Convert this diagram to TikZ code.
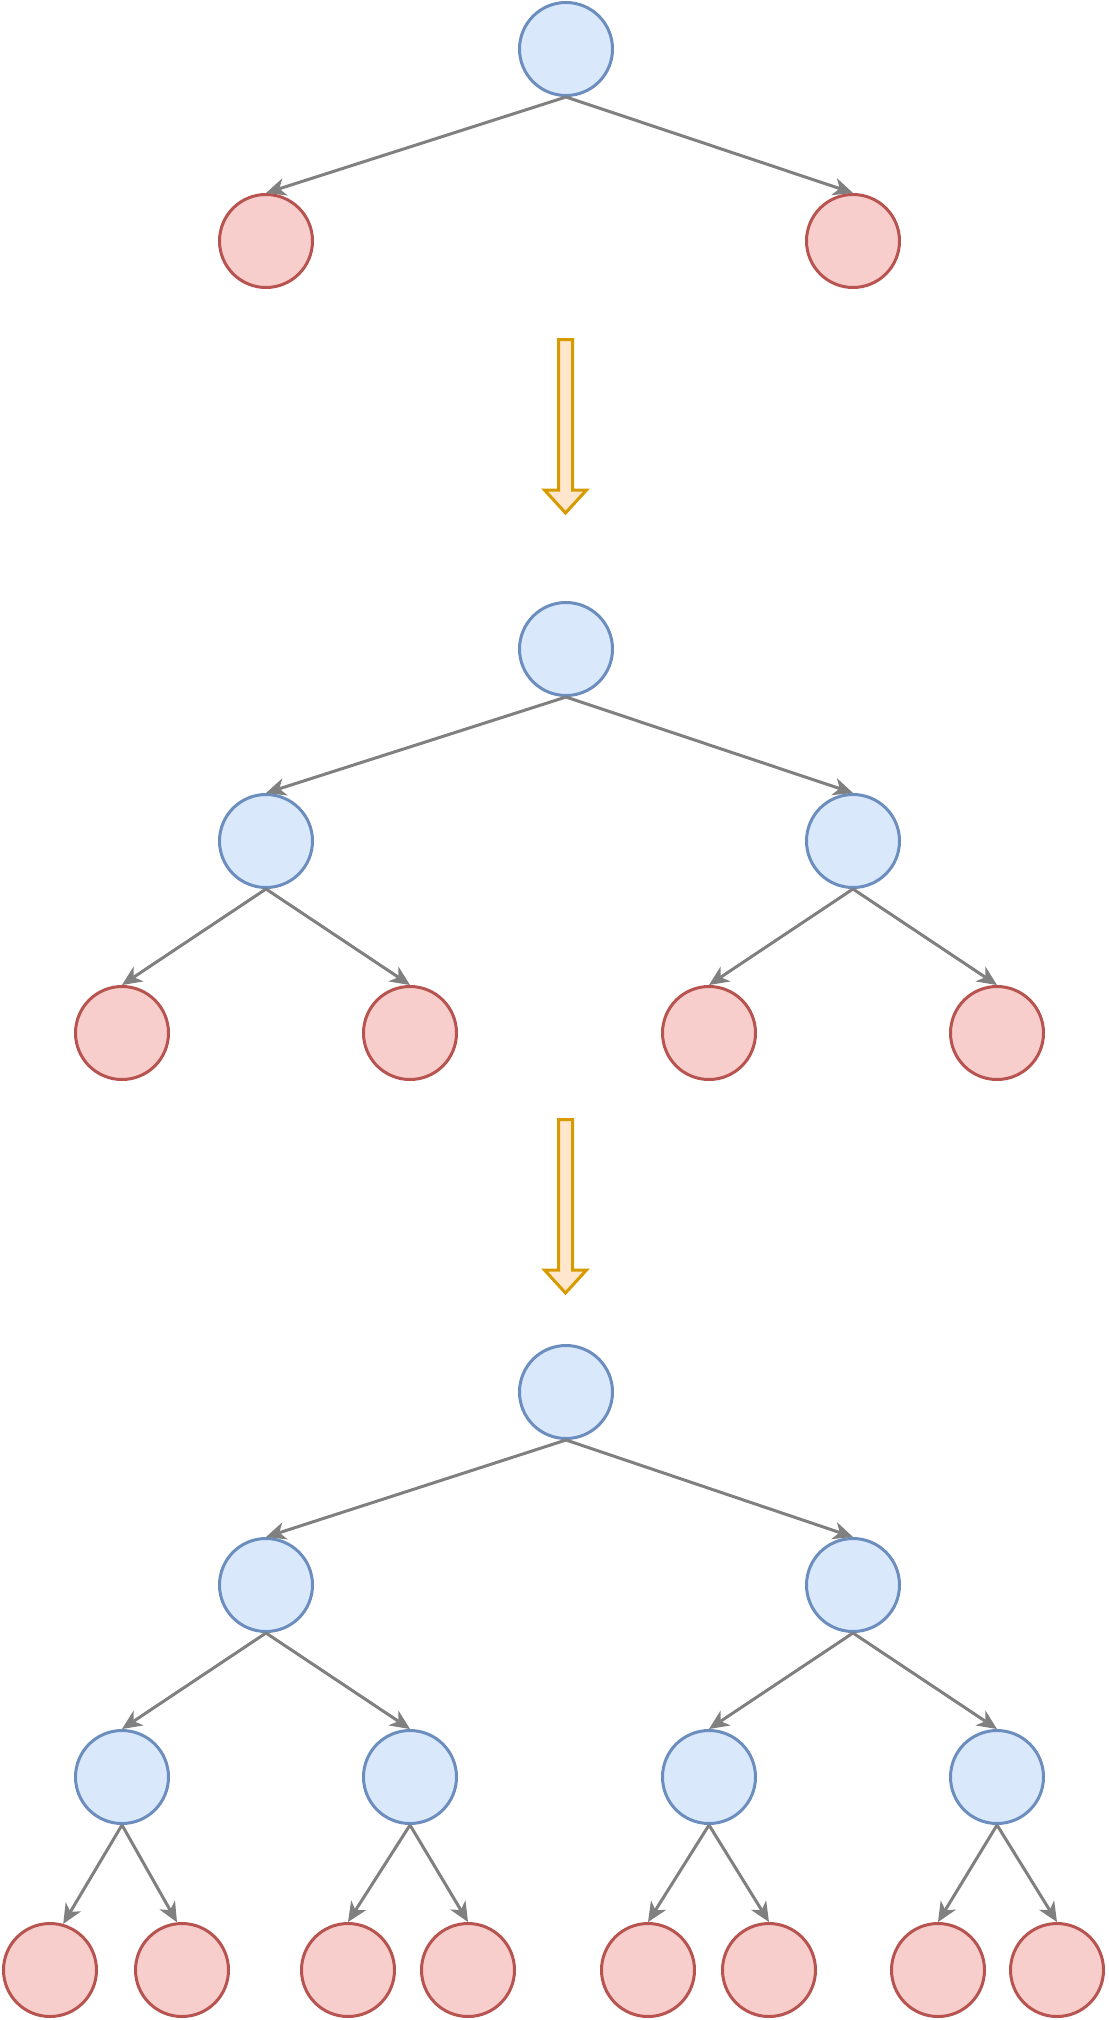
\documentclass[tikz,border=0pt]{standalone}
\usetikzlibrary{arrows.meta}
\definecolor{bfill}{HTML}{DAE8FC}
\definecolor{bdraw}{HTML}{6C8EBF}
\definecolor{rfill}{HTML}{F8CECC}
\definecolor{rdraw}{HTML}{B85450}
\definecolor{ofill}{HTML}{FFE6CC}
\definecolor{odraw}{HTML}{D79B00}
\definecolor{edgegray}{HTML}{808080}
\tikzset{
  inner/.style={circle, minimum size=93pt, inner sep=0pt, line width=3pt, draw=bdraw, fill=bfill},
  leaf/.style={circle, minimum size=93pt, inner sep=0pt, line width=3pt, draw=rdraw, fill=rfill},
  edge/.style={draw=edgegray, line width=3pt, -{Stealth[length=20pt, width=18pt, inset=6pt, line width=0pt]}},
  blockarrow/.style={draw=odraw, fill=ofill, line width=3pt, line join=miter}
}
\begin{document}
\begin{tikzpicture}[x=1pt, y=-1pt]
\useasboundingbox (0,0) rectangle (1108,2020);
% ---------- tree 1 ----------
\node[inner] (r1) at (566,49) {};
\node[leaf] (a1) at (266,241) {};
\node[leaf] (b1) at (853,241) {};
\draw[edge] (r1.south) -- (a1.north);
\draw[edge] (r1.south) -- (b1.north);
% ---------- block arrow 1 ----------
\draw[blockarrow] (558.5,339.5) -- (572.5,339.5) -- (572.5,490) -- (586.5,490) -- (565.5,513) -- (544.5,490) -- (558.5,490) -- cycle;
% ---------- tree 2 ----------
\node[inner] (r2) at (566,649) {};
\node[inner] (c2) at (266,841) {};
\node[inner] (d2) at (853,841) {};
\node[leaf] (l21) at (122,1033) {};
\node[leaf] (l22) at (410,1033) {};
\node[leaf] (l23) at (709,1033) {};
\node[leaf] (l24) at (997,1033) {};
\draw[edge] (r2.south) -- (c2.north);
\draw[edge] (r2.south) -- (d2.north);
\draw[edge] (c2.south) -- (l21.north);
\draw[edge] (c2.south) -- (l22.north);
\draw[edge] (d2.south) -- (l23.north);
\draw[edge] (d2.south) -- (l24.north);
% ---------- block arrow 2 ----------
\draw[blockarrow] (558.5,1119.5) -- (572.5,1119.5) -- (572.5,1270) -- (586.5,1270) -- (565.5,1293) -- (544.5,1270) -- (558.5,1270) -- cycle;
% ---------- tree 3 ----------
\node[inner] (r3) at (566,1392) {};
\node[inner] (e3) at (266,1585) {};
\node[inner] (f3) at (853,1585) {};
\node[inner] (g3) at (122,1777) {};
\node[inner] (h3) at (410,1777) {};
\node[inner] (i3) at (709,1777) {};
\node[inner] (j3) at (997,1777) {};
\node[leaf] (m1) at (50,1970) {};
\node[leaf] (m2) at (182,1970) {};
\node[leaf] (m3) at (348,1970) {};
\node[leaf] (m4) at (468,1970) {};
\node[leaf] (m5) at (648,1970) {};
\node[leaf] (m6) at (769,1970) {};
\node[leaf] (m7) at (938,1970) {};
\node[leaf] (m8) at (1057,1970) {};
\draw[edge] (r3.south) -- (e3.north);
\draw[edge] (r3.south) -- (f3.north);
\draw[edge] (e3.south) -- (g3.north);
\draw[edge] (e3.south) -- (h3.north);
\draw[edge] (f3.south) -- (i3.north);
\draw[edge] (f3.south) -- (j3.north);
\draw[edge] (g3.south) -- (m1.74);
\draw[edge] (g3.south) -- (m2.96);
\draw[edge] (h3.south) -- (m3.north);
\draw[edge] (h3.south) -- (m4.north);
\draw[edge] (i3.south) -- (m5.north);
\draw[edge] (i3.south) -- (m6.north);
\draw[edge] (j3.south) -- (m7.north);
\draw[edge] (j3.south) -- (m8.north);
\end{tikzpicture}
\end{document}
